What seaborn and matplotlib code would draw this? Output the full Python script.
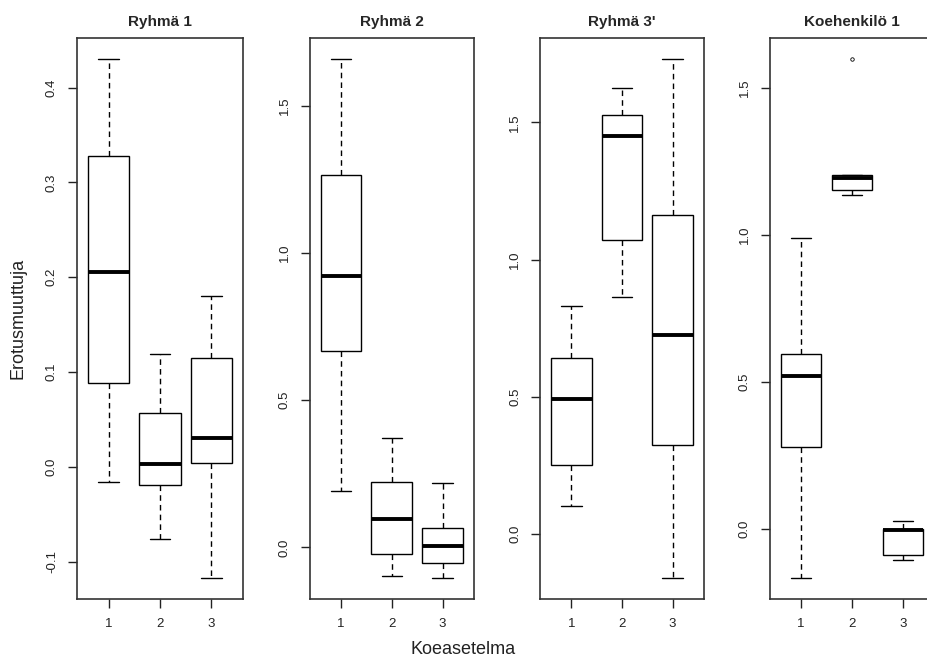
import numpy as np
import pandas as pd
import matplotlib
matplotlib.use("Agg")
import matplotlib.pyplot as plt
import seaborn as sns

# Categories (x) and panel titles
koeasetelma = ["1", "2", "3"]
panel_titles = ["Ryhmä 1", "Ryhmä 2", "Ryhmä 3'", "Koehenkilö 1"]

# Values per box: lower whisker, Q1, median, Q3, upper whisker (or outlier)
ryhma1 = [[-0.016, 0.088, 0.205, 0.328, 0.430],
          [-0.076, -0.0195, 0.003, 0.057, 0.1185],
          [-0.1176, 0.004, 0.030, 0.115, 0.180]]
ryhma2 = [[0.193, 0.666, 0.923, 1.266, 1.659],
          [-0.096, -0.024, 0.095, 0.222, 0.372],
          [-0.105, -0.054, 0.004, 0.067, 0.218]]
ryhma3 = [[0.100, 0.251, 0.491, 0.640, 0.832],
          [0.865, 1.072, 1.449, 1.526, 1.626],
          [-0.1615, 0.323, 0.726, 1.162, 1.731]]
koehenkilo1 = [[-0.168, 0.277, 0.519, 0.595, 0.991],
               [1.136, 1.154, 1.193, 1.205, 1.598],
               [-0.106, -0.089, -0.003, 0.0, 0.026]]

yticks = [[-0.1, 0.0, 0.1, 0.2, 0.3, 0.4],
          [0.0, 0.5, 1.0, 1.5],
          [0.0, 0.5, 1.0, 1.5],
          [0.0, 0.5, 1.0, 1.5]]

sns.set_style("ticks")
plt.rcParams["font.family"] = ["Liberation Sans", "DejaVu Sans"]

W, H = 927, 662
fig = plt.figure(figsize=(W / 100, H / 100), dpi=100)

panels = [ryhma1, ryhma2, ryhma3, koehenkilo1]
lefts_px = [76.7, 309.5, 540.0, 769.5]
widths_px = [166.6, 164.5, 164.0, 165.0]
top_px, bot_px = 38.3, 599.0

for i, (vals, title) in enumerate(zip(panels, panel_titles)):
    ax = fig.add_axes([lefts_px[i] / W, (H - bot_px) / H,
                       widths_px[i] / W, (bot_px - top_px) / H])
    df = pd.DataFrame({
        "Koeasetelma": np.repeat(koeasetelma, [len(v) for v in vals]),
        "Erotusmuuttuja": np.concatenate(vals),
    })
    sns.boxplot(data=df, x="Koeasetelma", y="Erotusmuuttuja", order=koeasetelma,
                ax=ax, color="white", linecolor="black", linewidth=1.0,
                width=0.8, whis=1.5, fliersize=2.5,
                whiskerprops={"linestyle": (0, (4, 3))},
                medianprops={"linewidth": 2.8},
                flierprops={"marker": "o", "markerfacecolor": "none",
                            "markeredgecolor": "black", "markeredgewidth": 0.6})
    allv = np.concatenate(vals)
    lo, hi = allv.min(), allv.max()
    pad = 0.04 * (hi - lo)
    ax.set_ylim(lo - pad, hi + pad)
    ax.set_xlim(-0.62, 2.62)
    ax.set_yticks(yticks[i])
    ax.set_yticklabels([f"{t:.1f}" for t in yticks[i]], rotation=90,
                       va="center", fontsize=9.5)
    ax.tick_params(axis="y", length=6.5, width=1, pad=7, colors="#222222")
    ax.tick_params(axis="x", length=6.5, width=1, pad=7, labelsize=9.5, colors="#222222")
    ax.set_xlabel("")
    ax.set_ylabel("")
    for s in ax.spines.values():
        s.set_visible(True)
        s.set_linewidth(1.2)
        s.set_color("#333333")
    ax.set_title(title, fontsize=11, fontweight="bold", pad=9)

fig.text(18 / W, 1 - 318 / H, "Erotusmuuttuja", rotation=90, ha="center",
         va="center", fontsize=13, color="#222222")
fig.text(463 / W, 1 - 650 / H, "Koeasetelma", ha="center", va="center",
         fontsize=13, color="#222222")

fig.savefig("out.png", dpi=100)
